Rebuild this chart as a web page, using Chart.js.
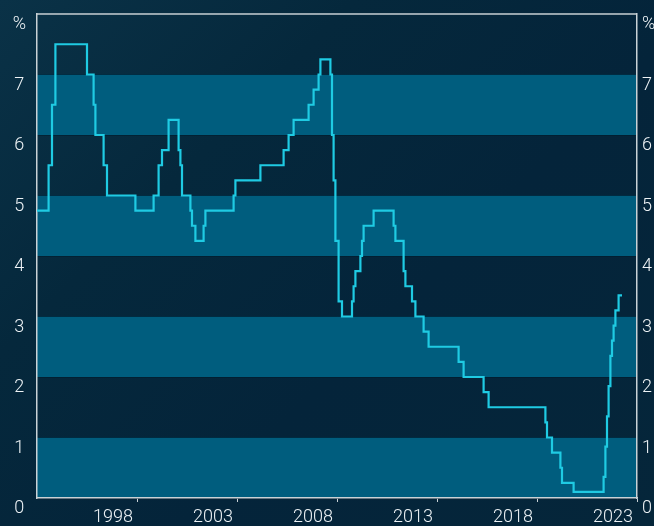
<!DOCTYPE html>
<html>
<head>
<meta charset="utf-8">
<script src="https://cdn.jsdelivr.net/npm/chart.js@4/dist/chart.umd.min.js"></script>
<style>
  html, body { margin: 0; padding: 0; width: 654px; height: 526px; overflow: hidden;
    background: #05263a; }
  body { background: linear-gradient(135deg, #0a3247 0%, #05283c 30%, #04243a 60%, #05263a 100%); }
  canvas { display: block; }
</style>
</head>
<body>
<canvas id="c" width="654" height="540"></canvas>
<script>
// Cash rate change dates (decimal years) and rate in effect from that date (%)
const dates = [1994.0, 1994.58, 1994.75, 1994.92, 1996.5, 1996.83, 1996.92, 1997.33, 1997.5,
  1998.92, 1999.83, 2000.08, 2000.25, 2000.58, 2001.08, 2001.17, 2001.25, 2001.67, 2001.75,
  2001.92, 2002.33, 2002.42, 2003.83, 2003.92, 2005.17, 2006.33, 2006.58, 2006.83, 2007.58,
  2007.83, 2008.08, 2008.17, 2008.67, 2008.75, 2008.83, 2008.92, 2009.08, 2009.25, 2009.75,
  2009.83, 2009.92, 2010.17, 2010.25, 2010.33, 2010.83, 2011.83, 2011.92, 2012.33, 2012.42,
  2012.75, 2012.92, 2013.33, 2013.58, 2015.08, 2015.33, 2016.33, 2016.58, 2019.42, 2019.5,
  2019.75, 2020.17, 2020.25, 2020.83, 2022.33, 2022.42, 2022.5, 2022.58, 2022.67, 2022.75,
  2022.83, 2022.92, 2023.08, 2023.25];
const rates = [4.75, 5.5, 6.5, 7.5, 7.0, 6.5, 6.0, 5.5, 5.0,
  4.75, 5.0, 5.5, 5.75, 6.25, 5.75, 5.5, 5.0, 4.75, 4.5,
  4.25, 4.5, 4.75, 5.0, 5.25, 5.5, 5.75, 6.0, 6.25, 6.5,
  6.75, 7.0, 7.25, 7.0, 6.0, 5.25, 4.25, 3.25, 3.0, 3.25,
  3.5, 3.75, 4.0, 4.25, 4.5, 4.75, 4.5, 4.25, 3.75, 3.5,
  3.25, 3.0, 2.75, 2.5, 2.25, 2.0, 1.75, 1.5, 1.25, 1.0,
  0.75, 0.5, 0.25, 0.1, 0.35, 0.85, 1.35, 1.85, 2.35, 2.6,
  2.85, 3.1, 3.35, 3.35];
// X-axis tick marks (year-end boundaries) and their labels
const xTickPositions = [1999, 2004, 2009, 2014, 2019, 2024];
const xTickLabels = ['1998', '2003', '2008', '2013', '2018', '2023'];
// Y-axis tick labels for 0..8 (top one is the unit)
const yTickLabels = ['0', '1', '2', '3', '4', '5', '6', '7', '%'];
// Shaded bands [from, to]
const bands = [[0, 1], [2, 3], [4, 5], [6, 7]];

const points = dates.map((d, i) => ({ x: d, y: rates[i] }));

const FONT = { family: 'Roboto, sans-serif', size: 18, weight: '300' };
const TXT = '#eef3f6';
const AXIS = '#c9d2d6';

const bandPlugin = {
  id: 'bands',
  beforeDraw(chart) {
    const { ctx, chartArea: a, scales } = chart;
    const y = scales.y;
    ctx.save();
    ctx.fillStyle = '#005d7e';
    bands.forEach(([lo, hi]) => {
      const top = y.getPixelForValue(hi), bot = y.getPixelForValue(lo);
      ctx.fillRect(a.left, top, a.right - a.left, bot - top);
    });
    ctx.restore();
  },
  afterDraw(chart) {
    const { ctx, chartArea: a } = chart;
    ctx.save();
    ctx.strokeStyle = AXIS;
    ctx.lineWidth = 1.5;
    ctx.beginPath();
    ctx.moveTo(a.left, a.top);
    ctx.lineTo(a.right, a.top);
    ctx.stroke();
    ctx.restore();
  }
};

const yAxis = (pos) => ({
  type: 'linear', position: pos, min: 0, max: 8,
  afterFit(s) { s.width = pos === 'left' ? 37 : 17; s.paddingTop = 0; s.paddingBottom = 0; },
  afterBuildTicks(s) { s.ticks = yTickLabels.map((_, i) => ({ value: i })); },
  ticks: {
    color: TXT, font: FONT, labelOffset: 10.5, padding: pos === 'left' ? 11 : 5,
    crossAlign: pos === 'left' ? 'center' : 'near',
    callback: (v, i) => yTickLabels[i]
  },
  grid: { drawOnChartArea: pos === 'left', drawTicks: false, color: 'rgba(0,28,44,0.55)', lineWidth: 1 },
  border: { display: true, color: AXIS, width: 1.5 }
});

new Chart(document.getElementById('c'), {
  type: 'line',
  data: {
    datasets: [{
      data: points,
      stepped: 'before',
      borderColor: '#1fcbe3',
      borderWidth: 2.2,
      pointRadius: 0,
      fill: false
    }]
  },
  options: {
    responsive: false,
    devicePixelRatio: 1,
    animation: false,
    layout: { padding: { top: 14, left: 0, right: 0, bottom: 0 } },
    plugins: { legend: { display: false }, tooltip: { enabled: false } },
    scales: {
      x: {
        type: 'linear', position: 'bottom', min: 1994, max: 2024,
        afterFit(s) { s.height = 42; s.paddingLeft = 0; s.paddingRight = 0; },
        afterBuildTicks(s) { s.ticks = xTickPositions.map(v => ({ value: v })); },
        ticks: {
          color: TXT, font: FONT, labelOffset: -24, padding: 5, maxRotation: 0,
          autoSkip: false,
          callback: (v, i) => xTickLabels[i]
        },
        grid: { drawOnChartArea: false, drawTicks: true, tickLength: 4, color: AXIS, lineWidth: 1 },
        border: { display: true, color: AXIS, width: 1.5 }
      },
      y: yAxis('left'),
      y2: yAxis('right')
    }
  },
  plugins: [bandPlugin]
});
</script>
</body>
</html>
